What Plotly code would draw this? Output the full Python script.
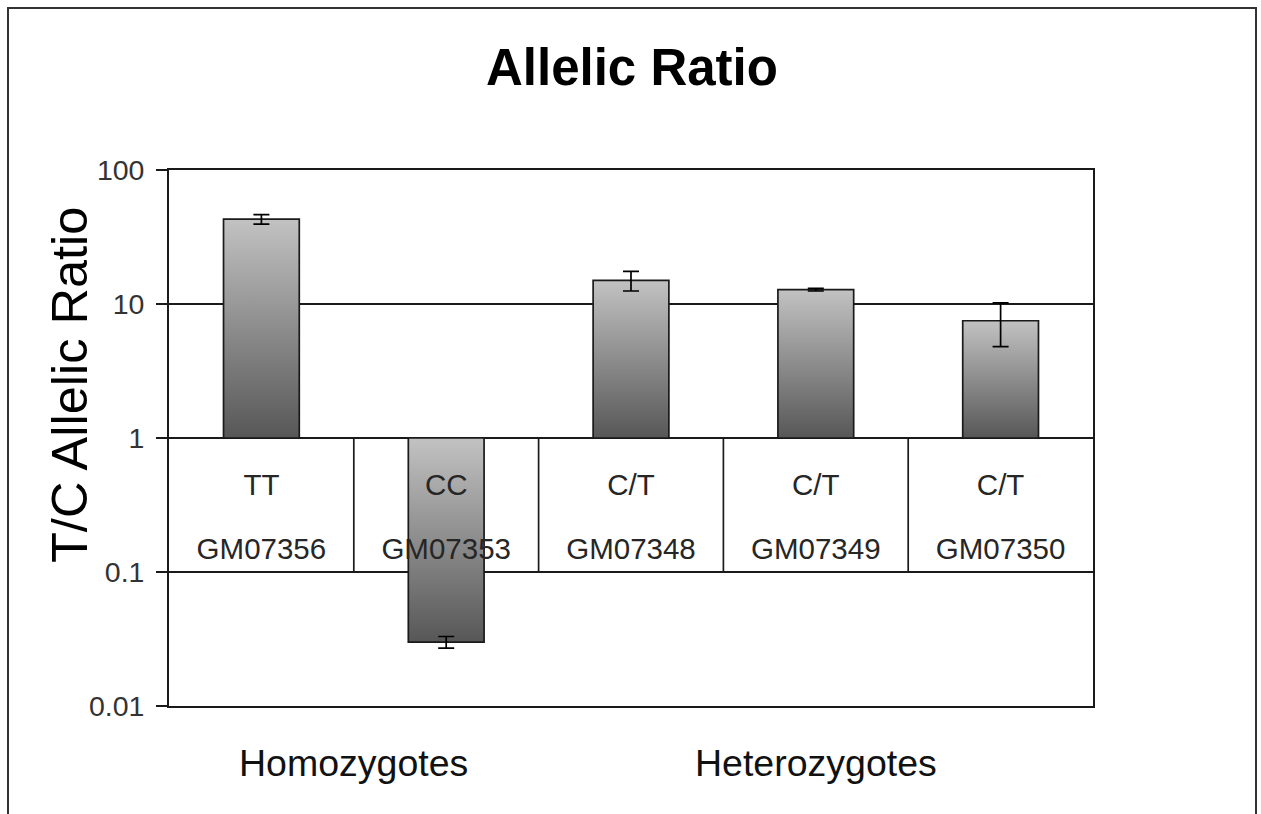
import plotly.graph_objects as go

# ---- data ----
genotypes = ["TT", "CC", "C/T", "C/T", "C/T"]
samples = ["GM07356", "GM07353", "GM07348", "GM07349", "GM07350"]
ratios = [43.0, 0.030, 15.0, 12.8, 7.5]
errors = [3.5, 0.003, 2.5, 0.3, 2.7]
groups = ["Homozygotes", "Heterozygotes"]
group_centers = [0.5, 3.0]
tick_vals = [0.01, 0.1, 1, 10, 100]
tick_text = ["0.01", "0.1", "1", "10", "100"]

FONT = "Liberation Sans, Arial, sans-serif"
BAR_W = 0.41
LINE = "#1a1a1a"

W, H = 1261, 814
L, R, T, B = 169, 168, 170, 108
PW, PH = W - L - R, H - T - B

fig = go.Figure()

idx = list(range(len(ratios)))

# table vertical dividers (between categories, from 0.1 to 1)
dx, dy = [], []
for i in idx[:-1]:
    dx += [i + 0.5, i + 0.5, None]
    dy += [0.1, 1, None]
fig.add_trace(go.Scatter(x=dx, y=dy, mode="lines",
                         line=dict(color=LINE, width=1.7),
                         hoverinfo="skip", showlegend=False))

# bars with vertical gradient, based at 1
for i, v in zip(idx, ratios):
    xs = [i - BAR_W / 2, i - BAR_W / 2, i + BAR_W / 2, i + BAR_W / 2, i - BAR_W / 2]
    ys = [1, v, v, 1, 1]
    fig.add_trace(go.Scatter(
        x=xs, y=ys, mode="lines", fill="toself",
        fillgradient=dict(type="vertical",
                          colorscale=[[0, "#575757"], [1, "#c2c2c2"]]),
        line=dict(color=LINE, width=1.7),
        hoverinfo="skip", showlegend=False))

# error bars
fig.add_trace(go.Scatter(
    x=idx, y=ratios, mode="markers",
    marker=dict(size=1, opacity=0),
    error_y=dict(type="data", array=errors, visible=True,
                 color="#000000", thickness=1.7, width=8),
    hoverinfo="skip", showlegend=False))

# table text inside the 1..0.1 band
row1_y = 10 ** (-50 / 134.3)
row2_y = 10 ** (-114 / 134.3)
fig.add_trace(go.Scatter(
    x=idx, y=[row1_y] * len(idx), mode="text", text=genotypes,
    textfont=dict(family=FONT, size=29.5, color="#262626"),
    hoverinfo="skip", showlegend=False))
fig.add_trace(go.Scatter(
    x=idx, y=[row2_y] * len(idx), mode="text", text=samples,
    textfont=dict(family=FONT, size=29.5, color="#262626"),
    hoverinfo="skip", showlegend=False))

annotations = [
    dict(text="<b>Allelic Ratio</b>", xref="paper", yref="paper",
         x=(632 - L) / PW, y=(H - B - 68) / PH, xanchor="center", yanchor="middle",
         showarrow=False, font=dict(family=FONT, size=51, color="#000000")),
    dict(text="T/C Allelic Ratio", xref="paper", yref="paper", textangle=-90,
         x=(69 - L) / PW, y=(H - B - 385) / PH, xanchor="center", yanchor="middle",
         showarrow=False, font=dict(family=FONT, size=50.5, color="#000000")),
]
for g, c in zip(groups, group_centers):
    annotations.append(dict(text=g, xref="x", yref="paper", x=c,
                            y=(H - B - 763) / PH, xanchor="center", yanchor="middle",
                            showarrow=False,
                            font=dict(family=FONT, size=37.5, color="#111111")))

shapes = [dict(type="rect", xref="paper", yref="paper",
               x0=(8 - L) / PW, x1=(1256 - L) / PW,
               y0=(H - B - 830) / PH, y1=(H - B - 8) / PH,
               line=dict(color="#333333", width=2), fillcolor="rgba(0,0,0,0)",
               layer="below")]

fig.update_layout(
    width=W, height=H,
    margin=dict(l=L, r=R, t=T, b=B, pad=0),
    paper_bgcolor="white", plot_bgcolor="white",
    font=dict(family=FONT, color="#222222"),
    annotations=annotations, shapes=shapes,
    showlegend=False,
    xaxis=dict(range=[-0.5, len(idx) - 0.5], showgrid=False, zeroline=False,
               showticklabels=False, ticks="", showline=True, mirror=True,
               linecolor=LINE, linewidth=1.7, fixedrange=True),
    yaxis=dict(type="log", range=[-2, 2], tickvals=tick_vals, ticktext=tick_text,
               showgrid=True, gridcolor=LINE, gridwidth=1.7,
               ticks="outside", ticklen=11, tickwidth=1.7, tickcolor=LINE,
               tickfont=dict(family=FONT, size=28.5, color="#333333"),
               ticklabelstandoff=6,
               showline=True, mirror=True, linecolor=LINE, linewidth=1.7,
               zeroline=False, fixedrange=True),
)

fig.write_html("out.html", config={"displayModeBar": False},
               post_script="document.body.style.margin='0';")
